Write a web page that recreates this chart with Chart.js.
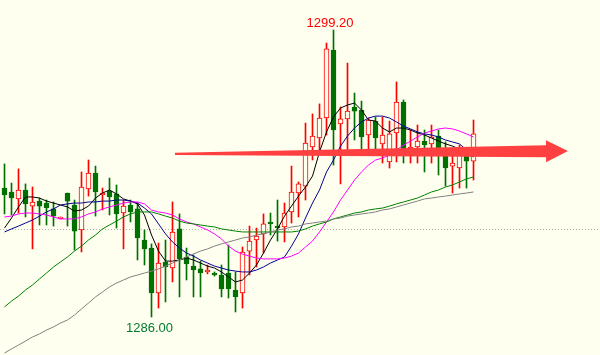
<!DOCTYPE html>
<html><head><meta charset="utf-8">
<script src="https://cdn.jsdelivr.net/npm/chart.js@4.4.1/dist/chart.umd.min.js"></script>
<style>html,body{margin:0;padding:0;background:#FFFFF0;overflow:hidden}canvas{display:block}</style>
</head><body>
<canvas id="c" width="600" height="355"></canvas>
<script>
// candle data (price)
const opens  = [1291.93,1291.75,1291.43,1291.84,1291.10,1291.33,1291.24,1290.97,1290.51,1291.70,
                1291.15,1290.00,1291.89,1292.62,1291.61,1291.79,1291.66,1290.78,1291.15,1290.97,
                1289.54,1289.17,1287.10,1288.53,1288.25,1290.05,1288.76,1288.34,1288.21,1288.07,
                1288.02,1287.93,1288.02,1287.24,1287.10,1289.03,1289.54,1289.82,1290.37,1290.18,
                1290.14,1290.83,1291.70,1292.02,1293.82,1294.23,1295.15,1298.28,1294.88,1295.11,
                1295.66,1295.52,1294.37,1295.01,1293.96,1293.13,1294.46,1295.89,1293.59,1293.82,
                1294.09,1293.96,1294.32,1293.40,1292.94,1292.85,1293.40,1293.17];
const highs  = [1293.04,1292.16,1292.81,1292.12,1291.98,1291.47,1291.38,1291.29,1290.60,1291.70,
                1291.38,1292.67,1293.22,1292.94,1291.93,1292.39,1292.07,1291.38,1291.38,1291.24,
                1290.00,1289.36,1289.40,1289.54,1291.29,1290.74,1289.17,1288.85,1288.57,1288.39,
                1288.07,1288.39,1289.31,1288.07,1289.22,1290.18,1290.09,1290.74,1290.78,1291.38,
                1291.24,1292.94,1292.21,1294.92,1295.34,1295.80,1298.60,1299.20,1295.66,1297.68,
                1296.30,1295.93,1295.15,1295.20,1295.20,1295.01,1296.81,1295.98,1294.60,1294.83,
                1294.60,1294.83,1294.60,1294.05,1293.77,1293.91,1293.77,1295.06];
const lows   = [1290.74,1290.69,1290.78,1290.60,1289.13,1290.23,1290.23,1290.18,1290.51,1290.18,
                1289.08,1288.99,1291.56,1290.64,1290.92,1290.69,1290.09,1289.13,1290.37,1288.62,
                1288.39,1286.00,1286.41,1286.69,1287.61,1286.92,1287.70,1286.92,1286.92,1287.98,
                1287.88,1286.92,1286.87,1286.23,1286.41,1287.93,1288.30,1288.94,1289.77,1289.49,
                1289.45,1290.32,1290.60,1291.38,1293.22,1293.59,1294.37,1292.99,1292.12,1293.68,
                1294.14,1293.59,1293.59,1293.54,1293.08,1292.85,1293.13,1293.08,1293.08,1293.08,
                1292.67,1293.08,1292.53,1292.02,1291.70,1291.93,1291.93,1292.30];
const closes = [1291.61,1291.47,1291.84,1291.20,1291.29,1291.10,1291.01,1290.64,1290.60,1291.33,
                1289.95,1291.98,1292.62,1291.75,1291.70,1291.52,1290.74,1291.10,1290.83,1289.63,
                1289.13,1287.10,1288.48,1288.30,1289.91,1288.67,1288.44,1288.16,1288.02,1288.16,
                1287.93,1287.29,1287.29,1286.92,1288.99,1289.49,1289.72,1290.28,1290.28,1290.09,
                1290.78,1291.75,1292.12,1294.00,1294.32,1295.15,1298.33,1294.60,1295.11,1295.47,
                1295.47,1294.28,1295.06,1294.23,1294.37,1294.42,1295.89,1293.68,1293.82,1294.09,
                1293.91,1294.28,1293.77,1292.85,1293.08,1293.68,1293.17,1294.42];

// moving averages
const maBlack = [1290.09,1290.55,1291.06,1291.52,1291.52,1291.47,1291.33,1291.24,1291.15,1291.06,
                 1290.87,1290.92,1291.10,1291.47,1291.70,1291.84,1291.66,1291.43,1291.33,1291.20,
                 1290.69,1289.77,1289.03,1288.57,1288.57,1288.62,1288.71,1288.62,1288.48,1288.34,
                 1288.25,1288.07,1287.84,1287.61,1287.70,1288.02,1288.39,1288.94,1289.54,1290.05,
                 1290.64,1291.10,1291.56,1291.98,1292.48,1293.59,1294.51,1295.20,1295.61,1295.75,
                 1295.84,1295.52,1295.06,1295.01,1294.69,1294.51,1294.69,1294.69,1294.60,1294.46,
                 1294.37,1294.23,1294.09,1293.96,1293.86,1293.72,1293.50,1293.36];
const maBlue  = [1289.91,1290.05,1290.18,1290.32,1290.46,1290.64,1290.83,1290.97,1291.15,1291.20,
                 1291.24,1291.24,1291.29,1291.29,1291.33,1291.33,1291.38,1291.38,1291.33,1291.24,
                 1291.01,1290.74,1290.28,1289.82,1289.45,1289.17,1288.94,1288.80,1288.62,1288.48,
                 1288.34,1288.25,1288.16,1288.11,1288.07,1288.07,1288.16,1288.30,1288.48,1288.62,
                 1288.76,1289.26,1289.82,1290.55,1291.24,1291.84,1292.67,1293.22,1293.86,1294.32,
                 1294.69,1294.97,1295.15,1295.24,1295.24,1295.15,1294.97,1294.78,1294.65,1294.51,
                 1294.42,1294.37,1294.28,1294.14,1294.05,1293.96,1293.68,1293.40];
const maPink  = [1290.60,1290.64,1290.74,1290.78,1290.78,1290.74,1290.69,1290.60,1290.51,1290.51,
                 1290.51,1290.60,1290.74,1290.83,1290.97,1291.06,1291.15,1291.24,1291.29,1291.29,
                 1291.20,1290.92,1290.83,1290.78,1290.69,1290.51,1290.37,1290.28,1290.14,1290.00,
                 1289.82,1289.59,1289.26,1289.03,1288.89,1288.80,1288.71,1288.67,1288.67,1288.67,
                 1288.71,1288.80,1288.94,1289.22,1289.49,1289.91,1290.37,1290.83,1291.38,1291.84,
                 1292.30,1292.67,1292.99,1293.22,1293.31,1293.45,1293.68,1293.91,1294.09,1294.28,
                 1294.46,1294.55,1294.65,1294.69,1294.65,1294.55,1294.42,1294.28];
const maGreen = [1286.46,1286.73,1286.96,1287.24,1287.47,1287.75,1288.02,1288.30,1288.53,1288.76,
                 1289.03,1289.26,1289.54,1289.77,1290.05,1290.23,1290.41,1290.60,1290.74,1290.83,
                 1290.83,1290.83,1290.74,1290.64,1290.55,1290.41,1290.32,1290.28,1290.23,1290.18,
                 1290.14,1290.05,1290.00,1289.95,1289.91,1289.91,1289.91,1289.91,1289.91,1289.91,
                 1289.91,1289.91,1289.95,1290.05,1290.18,1290.28,1290.37,1290.51,1290.60,1290.69,
                 1290.78,1290.83,1290.92,1290.97,1291.01,1291.10,1291.20,1291.29,1291.38,1291.47,
                 1291.61,1291.75,1291.84,1291.98,1292.07,1292.21,1292.35,1292.44];
const maGray  = [1284.34,1284.53,1284.71,1284.89,1285.08,1285.22,1285.40,1285.54,1285.72,1285.86,
                 1286.09,1286.37,1286.64,1286.92,1287.15,1287.38,1287.56,1287.70,1287.84,1287.93,
                 1288.02,1288.11,1288.21,1288.34,1288.48,1288.62,1288.76,1288.90,1289.03,1289.13,
                 1289.26,1289.36,1289.45,1289.54,1289.63,1289.68,1289.77,1289.82,1289.91,1290.00,
                 1290.05,1290.14,1290.18,1290.28,1290.32,1290.37,1290.41,1290.51,1290.55,1290.64,
                 1290.69,1290.74,1290.78,1290.83,1290.92,1290.97,1291.06,1291.15,1291.24,1291.33,
                 1291.43,1291.47,1291.52,1291.56,1291.61,1291.66,1291.70,1291.75];

// annotations
const LEVEL = 1290.00;                       // dotted price level
const ARROW_FROM = [24.36, 1293.50];         // [bar index, price]
const ARROW_TO   = [80.50, 1293.63];

const BG = '#FFFFF0', UP = '#FF0000', DOWN = '#007000';
const idx = opens.map((_, i) => i);
const isUp = idx.map(i => closes[i] >= opens[i]);

const levelPlugin = {
  id: 'level',
  beforeDatasetsDraw(chart) {
    const {ctx, chartArea, scales: {y}} = chart;
    const py = Math.round(y.getPixelForValue(LEVEL)) - 0.5;
    ctx.save();
    ctx.strokeStyle = '#b0b0b0'; ctx.lineWidth = 1; ctx.setLineDash([1, 2]);
    ctx.beginPath(); ctx.moveTo(chartArea.left, py); ctx.lineTo(chartArea.right, py); ctx.stroke();
    ctx.restore();
  }
};
const annoPlugin = {
  id: 'anno',
  afterDatasetsDraw(chart) {
    const {ctx, scales: {x, y}} = chart;
    // arrow
    const x0 = x.getPixelForValue(ARROW_FROM[0]), y0 = y.getPixelForValue(ARROW_FROM[1]);
    const x1 = x.getPixelForValue(ARROW_TO[0]),   y1 = y.getPixelForValue(ARROW_TO[1]);
    const L = Math.hypot(x1 - x0, y1 - y0), ux = (x1 - x0) / L, uy = (y1 - y0) / L, nx = -uy, ny = ux;
    const headLen = 22, headHalf = 11, tail = 1.1, neck = 6;
    const bx = x1 - ux * headLen, by = y1 - uy * headLen;
    ctx.save();
    ctx.beginPath();
    ctx.moveTo(x0 + nx * tail, y0 + ny * tail);
    ctx.lineTo(bx + nx * neck, by + ny * neck);
    ctx.lineTo(bx + nx * headHalf, by + ny * headHalf);
    ctx.lineTo(x1, y1);
    ctx.lineTo(bx - nx * headHalf, by - ny * headHalf);
    ctx.lineTo(bx - nx * neck, by - ny * neck);
    ctx.lineTo(x0 - nx * tail, y0 - ny * tail);
    ctx.closePath();
    ctx.fillStyle = '#FF4040'; ctx.fill();
    // high / low labels
    const hiI = highs.indexOf(Math.max(...highs));
    const loI = lows.indexOf(Math.min(...lows));
    ctx.font = '13px "Liberation Sans", Arial, sans-serif';
    ctx.textAlign = 'center'; ctx.textBaseline = 'alphabetic';
    ctx.fillStyle = '#FF0000';
    ctx.fillText(highs[hiI].toFixed(2), x.getPixelForValue(hiI) - 3.5, y.getPixelForValue(highs[hiI]) - 3);
    ctx.fillStyle = '#007A30';
    ctx.fillText(lows[loI].toFixed(2), x.getPixelForValue(loI) - 2, y.getPixelForValue(lows[loI]) + 15);
    ctx.restore();
  }
};

const lineDs = (data, color) => ({
  type: 'line', data: idx.map(i => ({x: i, y: data[i]})), borderColor: color, borderWidth: 1,
  pointRadius: 0, tension: 0, fill: false, order: 0
});

new Chart(document.getElementById('c'), {
  type: 'bar',
  data: {
    datasets: [
      lineDs(maGray, '#808080'),
      lineDs(maGreen, '#008000'),
      lineDs(maPink, '#FF00FF'),
      lineDs(maBlue, '#000090'),
      lineDs(maBlack, '#000000'),
      { label: 'body', data: idx.map(i => ({x: i, y: [Math.min(opens[i], closes[i]), Math.max(opens[i], closes[i])]})),
        backgroundColor: idx.map(i => isUp[i] ? BG : DOWN), borderColor: idx.map(i => isUp[i] ? UP : DOWN),
        borderWidth: 1, borderSkipped: false, barThickness: 5, grouped: false, order: 1 },
      { label: 'wick', data: idx.map(i => ({x: i, y: [lows[i], highs[i]]})),
        backgroundColor: idx.map(i => isUp[i] ? UP : DOWN), borderWidth: 0,
        barThickness: 1, grouped: false, order: 2 }
    ]
  },
  options: {
    responsive: false, animation: false, devicePixelRatio: 1,
    layout: {padding: 0},
    plugins: {legend: {display: false}, tooltip: {enabled: false}},
    scales: {
      x: {type: 'linear', display: false, offset: false, min: -4.5 / 7, max: -4.5 / 7 + 600 / 7},
      y: {display: false, min: 1284.25, max: 1300.58}
    }
  },
  plugins: [levelPlugin, annoPlugin]
});
</script>
</body></html>
